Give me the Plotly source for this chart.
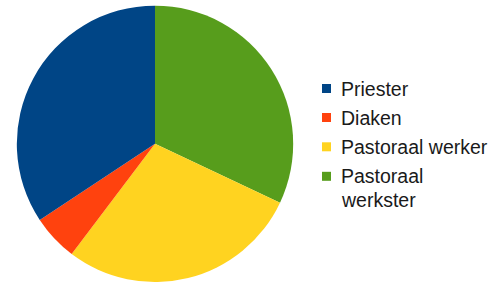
import plotly.graph_objects as go

labels = ["Priester", "Diaken", "Pastoraal werker", "Pastoraal werkster"]
legend_lines = [["Priester"], ["Diaken"], ["Pastoraal werker"], ["Pastoraal", "werkster"]]
values = [34.3, 5.4, 28.3, 32.0]
colors = ["#004586", "#ff420e", "#ffd320", "#579d1c"]

W, H = 500, 282
FS = 19.5

# slices drawn clockwise from 12 o'clock in reverse legend order
fig = go.Figure(go.Pie(
    labels=labels[::-1], values=values[::-1], sort=False, direction="clockwise",
    rotation=0, marker=dict(colors=colors[::-1], line=dict(width=0)),
    textinfo="none", hoverinfo="label+percent", showlegend=False,
    domain=dict(x=[0, 0.62], y=[0.0, 0.98]),
))

# manual legend
sq_y = [88.5, 117.5, 146.8, 176.3]
shapes = []
annots = []
for i, (lines, c) in enumerate(zip(legend_lines, colors)):
    yc = sq_y[i]
    shapes.append(dict(type="rect", xref="paper", yref="paper",
                       x0=322 / W, x1=331 / W, y0=1 - (yc + 4.5) / H, y1=1 - (yc - 4.5) / H,
                       fillcolor=c, line=dict(width=0)))
    for j, t in enumerate(lines):
        ymid = yc + j * 24
        annots.append(dict(text=t, xref="paper", yref="paper", x=338.5 / W, y=1 - ymid / H,
                           xanchor="left", yanchor="middle", align="left", showarrow=False,
                           font=dict(family="Liberation Sans", size=FS, color="#1a1a1a")))

fig.update_layout(width=W, height=H, margin=dict(l=0, r=0, t=0, b=0),
                  paper_bgcolor="white", plot_bgcolor="white",
                  shapes=shapes, annotations=annots)
fig.write_html("out.html", config={"displayModeBar": False},
               post_script="document.body.style.margin='0px';")
